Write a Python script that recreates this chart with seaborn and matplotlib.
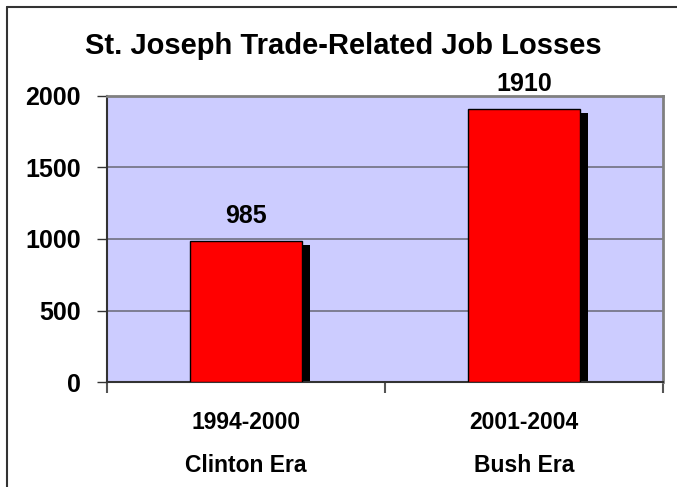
import matplotlib
matplotlib.use("Agg")
import matplotlib.pyplot as plt
import matplotlib.patches as mpatches
import matplotlib.transforms as mtransforms
from matplotlib.lines import Line2D
import seaborn as sns
import pandas as pd

periods = ["1994-2000", "2001-2004"]
eras = ["Clinton Era", "Bush Era"]
losses = [985, 1910]
title = "St. Joseph Trade-Related Job Losses"
yticks = [0, 500, 1000, 1500, 2000]

sns.set_theme(style="white")
plt.rcParams['font.family'] = ['Liberation Sans', 'DejaVu Sans']
plt.rcParams['text.color'] = 'black'
plt.rcParams['xtick.labelcolor'] = 'black'
plt.rcParams['ytick.labelcolor'] = 'black'

df = pd.DataFrame({"period": periods, "era": eras, "losses": losses})

fig = plt.figure(figsize=(6.77, 4.87), dpi=100)
ax = fig.add_axes([107/677, 105/487, 556/677, 286/487])
ax.set_facecolor("#CCCCFF")

sns.barplot(data=df, x="period", y="losses", color="#FF0000", width=0.40,
            edgecolor="black", linewidth=1.0, saturation=1, ax=ax, zorder=3)

# drop shadows (offset copies of the seaborn bars)
offset = mtransforms.ScaledTranslation(8/100, -4/100, fig.dpi_scale_trans)
for p in list(ax.patches):
    sh = mpatches.Rectangle((p.get_x(), p.get_y()), p.get_width(), p.get_height(),
                            facecolor="black", edgecolor="none", zorder=2.5,
                            transform=ax.transData + offset)
    ax.add_patch(sh)

ax.set_ylim(0, 2000)
ax.set_xlim(-0.5, 1.5)
ax.set_yticks(yticks)
ax.set_yticklabels([str(v) for v in yticks], fontsize=18, fontweight="bold")
ax.yaxis.grid(True, color="#707080", linewidth=1.2, zorder=1)
ax.set_axisbelow(True)

ax.set_xticks([0, 1])
ax.set_xticklabels([f"{p}\n{e}" for p, e in zip(periods, eras)],
                   fontsize=16.5, fontweight="bold", linespacing=2.1)
ax.tick_params(axis="x", length=0, pad=21)
ax.tick_params(axis="y", length=7, width=1, color="#333333", left=True, pad=12)

# category separator ticks on x axis
ax.set_xticks([-0.5, 0.5, 1.5], minor=True)
ax.tick_params(axis="x", which="minor", length=8, width=1.5, color="#555555", bottom=True)

ax.set_xlabel("")
ax.set_ylabel("")

for s in ["left", "bottom"]:
    ax.spines[s].set_color("#333333")
    ax.spines[s].set_linewidth(1.5)
for s in ["top", "right"]:
    ax.spines[s].set_color("#808080")
    ax.spines[s].set_linewidth(2)

for i, v in enumerate(losses):
    ax.annotate(str(v), xy=(i, v), xytext=(0, 13), textcoords="offset points",
                ha="center", va="baseline", fontsize=18, fontweight="bold")

fig.text(343/677, 1 - 46/487, title, ha="center", va="center",
         fontsize=21, fontweight="bold")

# outer frame (left and top visible)
fig.add_artist(Line2D([7/677, 7/677], [0, 1 - 7/487], transform=fig.transFigure,
                      color="#333333", linewidth=1.5))
fig.add_artist(Line2D([7/677, 1], [1 - 7/487, 1 - 7/487], transform=fig.transFigure,
                      color="#333333", linewidth=1.5))

fig.savefig("out.png", dpi=100)
